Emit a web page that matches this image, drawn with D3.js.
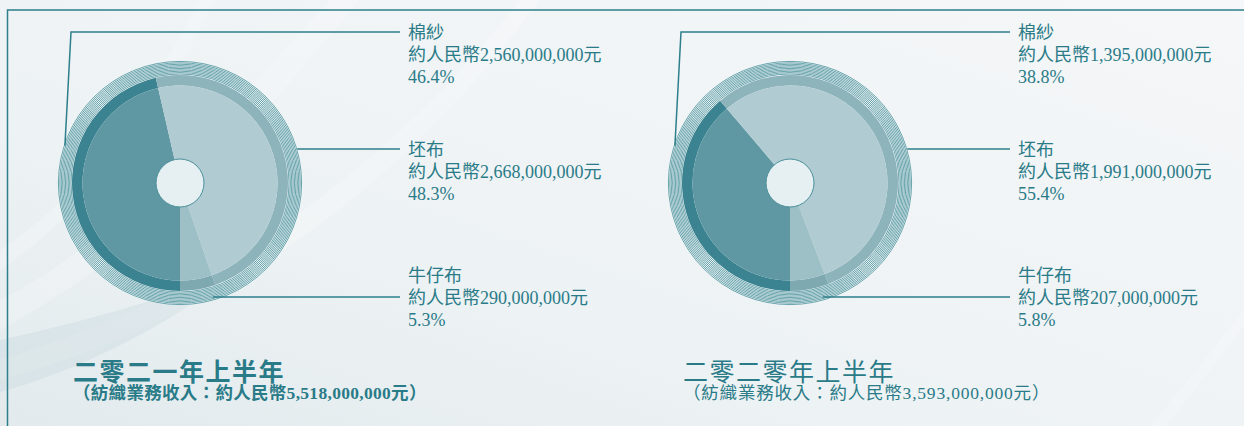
<!DOCTYPE html>
<html>
<head>
<meta charset="utf-8">
<script src="https://cdn.jsdelivr.net/npm/d3@7"></script>
<style>
  html, body { margin: 0; padding: 0; background: #eef3f5; }
  svg { display: block; }
  text { font-family: "Liberation Serif", "Noto Sans CJK TC", serif; fill: #2a7b88; }
</style>
</head>
<body>
<div id="chart"></div>
<script>
const categories = ["棉紗", "坯布", "牛仔布"];
const periods = ["二零二一年上半年", "二零二零年上半年"];
const values2021 = [2560000000, 2668000000, 290000000];
const shares2021 = [46.4, 48.3, 5.3];
const values2020 = [1395000000, 1991000000, 207000000];
const shares2020 = [38.8, 55.4, 5.8];
const totals = [5518000000, 3593000000];

const W = 1244, H = 426;
const innerColors = ["#5f98a3", "#b0cbd2", "#9dbfc6"];
const ringColors = ["#3b8390", "#8db3bb", "#7ea9b1"];
const teal = "#2d7f8b";

const svg = d3.select("#chart").append("svg")
  .attr("width", W).attr("height", H);

// background
const defs = svg.append("defs");
const bg = defs.append("linearGradient").attr("id", "bg")
  .attr("x1", "0").attr("y1", "1").attr("x2", "1").attr("y2", "0");
bg.append("stop").attr("offset", "0").attr("stop-color", "#e2eaed");
bg.append("stop").attr("offset", "0.35").attr("stop-color", "#edf2f4");
bg.append("stop").attr("offset", "1").attr("stop-color", "#f5f7f8");
svg.append("rect").attr("width", W).attr("height", H).attr("fill", "url(#bg)");

// soft streaks
const streaks = [
  "M0,300 C120,240 220,120 330,0 L360,0 C250,130 150,250 0,330 Z",
  "M0,360 C200,300 380,180 520,0 L540,0 C400,190 220,320 0,380 Z",
  "M0,250 C80,200 140,110 200,0 L215,0 C160,110 90,210 0,270 Z",
  "M1150,426 C1190,380 1220,340 1244,310 L1244,325 C1222,355 1195,390 1165,426 Z"
];
svg.selectAll("path.streak").data(streaks).join("path")
  .attr("class", "streak").attr("d", d => d)
  .attr("fill", "#ffffff").attr("opacity", 0.22);
svg.append("path")
  .attr("d", "M0,340 C90,320 160,300 240,270 C160,330 80,370 0,392 Z")
  .attr("fill", "#c9dadf").attr("opacity", 0.4);

// frame
svg.append("path")
  .attr("d", `M7.5,${H} V10 H${W}`)
  .attr("fill", "none").attr("stroke", teal).attr("stroke-width", 1.5);

const fmt = d3.format(",");
const pie = d3.pie().sort(null).value(d => d.share)
  .startAngle(Math.PI).endAngle(3 * Math.PI);

const charts = [
  { cx: 180, cy: 183, values: values2021, shares: shares2021, total: totals[0], title: periods[0], bold: true },
  { cx: 790, cy: 183, values: values2020, shares: shares2020, total: totals[1], title: periods[1], bold: false }
];

const rInner = 97.5, rBand = 108, rHole = 24;
const arcInner = d3.arc().innerRadius(0).outerRadius(rInner);
const arcBand = d3.arc().innerRadius(rInner).outerRadius(rBand);

// leader layout: angle on the ring (deg, clockwise from top), radius, leader y, first text line y
const leaders = [
  { angle: 288, r: 121, y: 32, textTop: 33 },
  { angle: 74, r: 122, y: 149, textTop: 150 },
  { angle: 164, r: 119, y: 297, textTop: 276 }
];
const lineGap = 22;

charts.forEach(c => {
  const data = categories.map((name, i) => ({ name, value: c.values[i], share: c.shares[i] }));
  const arcs = pie(data);
  const g = svg.append("g").attr("transform", `translate(${c.cx},${c.cy})`);

  // thin concentric rings over a pale disc
  g.append("circle").attr("r", rBand + 14).attr("fill", "#f4f8f9");
  g.selectAll("circle.ring").data(d3.range(10)).join("circle")
    .attr("class", "ring")
    .attr("r", i => rBand + 1 + i * 1.4)
    .attr("fill", "none").attr("stroke", teal).attr("stroke-width", 0.7);

  g.selectAll("path.band").data(arcs).join("path")
    .attr("class", "band").attr("d", arcBand)
    .attr("fill", (d, i) => ringColors[i]);
  g.selectAll("path.slice").data(arcs).join("path")
    .attr("class", "slice").attr("d", arcInner)
    .attr("fill", (d, i) => innerColors[i]);

  g.append("circle").attr("r", rHole)
    .attr("fill", "#e6eff1").attr("stroke", "#4a909b").attr("stroke-width", 1);

  // leaders and labels
  const labelX = c.cx + 228, endX = c.cx + 220;
  leaders.forEach((L, i) => {
    const a = L.angle * Math.PI / 180;
    const sx = c.cx + L.r * Math.sin(a), sy = c.cy - L.r * Math.cos(a);
    const pts = i === 0
      ? [[sx, sy], [c.cx - 109, L.y], [endX, L.y]]
      : [[sx, L.y], [endX, L.y]];
    svg.append("path")
      .attr("d", d3.line()(pts))
      .attr("fill", "none").attr("stroke", teal).attr("stroke-width", 1.5);

    const d = data[i];
    const lines = [d.name, "約人民幣" + fmt(d.value) + "元", d.share.toFixed(1) + "%"];
    svg.selectAll(null).data(lines).join("text")
      .attr("x", labelX)
      .attr("y", (t, k) => L.textTop + k * lineGap)
      .attr("dominant-baseline", "central")
      .attr("font-size", 18)
      .text(t => t);
  });

  // titles
  svg.append("text")
    .attr("x", c.cx - 107).attr("y", 372)
    .attr("dominant-baseline", "central")
    .attr("font-size", 25).attr("letter-spacing", 1.5)
    .attr("font-weight", c.bold ? "bold" : "normal")
    .text(c.title);
  svg.append("text")
    .attr("x", c.cx - 107).attr("y", 393)
    .attr("dominant-baseline", "central")
    .attr("font-size", 17.5).attr("letter-spacing", c.bold ? 0.3 : 0.8)
    .attr("font-weight", c.bold ? "bold" : "normal")
    .text("（紡織業務收入：約人民幣" + fmt(c.total) + "元）");
});
</script>
</body>
</html>
